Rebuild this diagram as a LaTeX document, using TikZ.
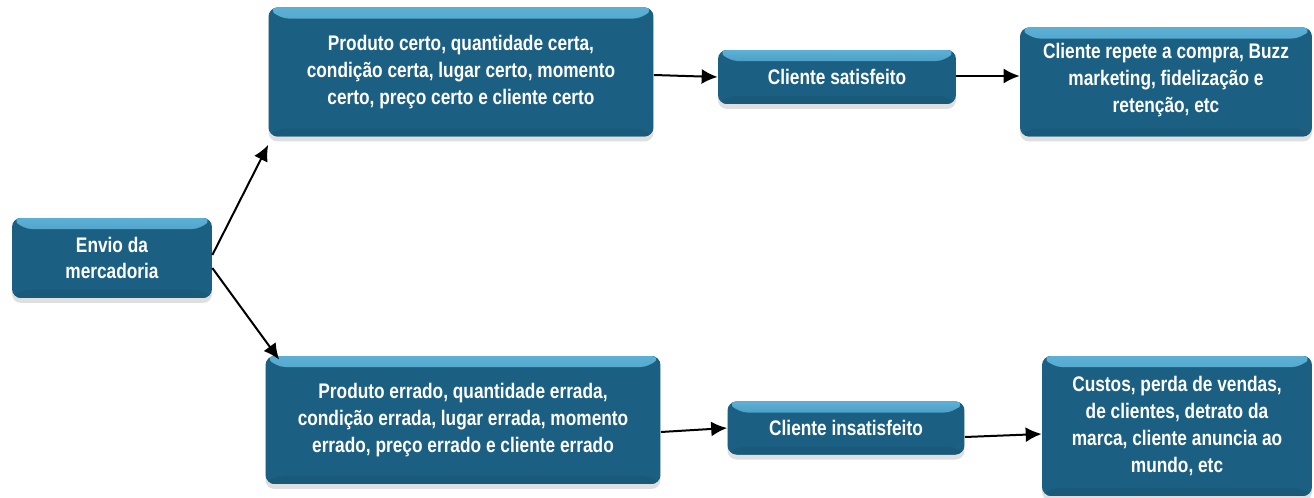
\documentclass[tikz,border=0pt]{standalone}
\usepackage{fontspec}
\setmainfont{Liberation Sans}[FakeStretch=0.82]
\usetikzlibrary{arrows.meta,shadows}
\definecolor{caixaazul}{RGB}{27,96,130}
\definecolor{caixaclara}{RGB}{92,176,214}

\tikzset{
  caixa/.style={rounded corners=0.18cm, fill=caixaazul, text=white, align=center,
    inner sep=0pt, font=\bfseries\fontsize{12}{15.3}\selectfont,
    drop shadow={opacity=0.25, shadow xshift=0pt, shadow yshift=-0.1cm, path picture={}},
    path picture={
      \fill[top color=caixaclara, bottom color=caixaazul]
        (path picture bounding box.north west) -- (path picture bounding box.north east)
        -- ([shift={(-0.22cm,-0.22cm)}]path picture bounding box.north east)
        -- ([shift={(0.22cm,-0.22cm)}]path picture bounding box.north west) -- cycle;
      \fill[caixaazul!94!black]
        (path picture bounding box.south west) -- (path picture bounding box.south east)
        -- ([shift={(-0.16cm,0.16cm)}]path picture bounding box.south east)
        -- ([shift={(0.16cm,0.16cm)}]path picture bounding box.south west) -- cycle;
    }},
  seta/.style={-{Latex[length=0.32cm,width=0.3cm]}, line width=0.04cm}
}

\begin{document}
\begin{tikzpicture}[x=0.02cm, y=-0.02cm]
  \useasboundingbox (0,0) rectangle (1314,497);

  % caixas
  \node[caixa, minimum width=4cm, minimum height=1.6cm] (envio) at (112,258)
    {Envio da\\mercadoria};
  \node[caixa, minimum width=7.7cm, minimum height=2.58cm] (certo) at (461,72)
    {Produto certo, quantidade certa,\\condição certa, lugar certo, momento\\certo, preço certo e cliente certo};
  \node[caixa, minimum width=4.76cm, minimum height=1.08cm] (satisfeito) at (837,77)
    {Cliente satisfeito};
  \node[caixa, minimum width=5.84cm, minimum height=2.18cm] (repete) at (1166,82)
    {\mbox{}\\[-9pt]Cliente repete a compra, Buzz\\marketing, fidelização e\\retenção, etc};
  \node[caixa, minimum width=7.9cm, minimum height=2.56cm] (errado) at (463,420)
    {Produto errado, quantidade errada,\\condição errada, lugar errada, momento\\errado, preço errado e cliente errado};
  \node[caixa, minimum width=4.74cm, minimum height=1.06cm] (insatisfeito) at (846,428)
    {Cliente insatisfeito};
  \node[caixa, minimum width=5.4cm, minimum height=2.8cm] (custos) at (1177,426)
    {Custos, perda de vendas,\\de clientes, detrato da\\marca, cliente anuncia ao\\mundo, etc};

  % setas
  \draw[seta] ([yshift=0.06cm]envio.east) -- ([yshift=-0.16cm]certo.south west);
  \draw[seta] ([yshift=-0.2cm]envio.east) -- ([shift={(0.28cm,-0.08cm)}]errado.north west);
  \draw[seta] ([yshift=-0.06cm]certo.east) -- (satisfeito.west);
  \draw[seta] ([yshift=0.02cm]satisfeito.east) -- ([yshift=0.02cm]satisfeito.east -| repete.west);
  \draw[seta] ([yshift=-0.24cm]errado.east) -- (insatisfeito.west);
  \draw[seta] ([yshift=-0.18cm]insatisfeito.east) -- ([yshift=-0.16cm]custos.west);
\end{tikzpicture}
\end{document}
